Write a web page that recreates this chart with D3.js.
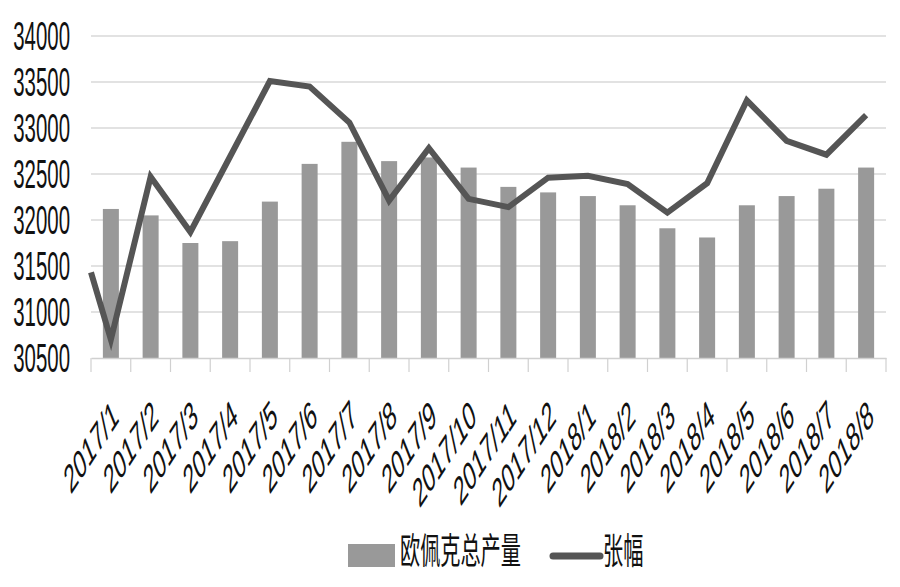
<!DOCTYPE html>
<html><head><meta charset="utf-8">
<script src="https://cdn.jsdelivr.net/npm/d3@7"></script>
<style>html,body{margin:0;padding:0;background:#fff;}svg{display:block;}</style>
</head><body>
<svg id="chart" width="900" height="587"></svg>
<script>
const categories = ["2017/1","2017/2","2017/3","2017/4","2017/5","2017/6","2017/7","2017/8","2017/9","2017/10","2017/11","2017/12","2018/1","2018/2","2018/3","2018/4","2018/5","2018/6","2018/7","2018/8"];
const barValues = [32120,32050,31750,31770,32200,32610,32850,32640,32680,32570,32360,32300,32260,32160,31910,31810,32160,32260,32340,32570];
const lineValues = [30700,32470,31870,32690,33510,33450,33060,32210,32780,32230,32140,32460,32480,32390,32080,32400,33300,32860,32710,33140];
const lineLeadValue = 31430; // value where the line enters at the left edge
const yTicks = [30500,31000,31500,32000,32500,33000,33500,34000];
const seriesNames = ["欧佩克总产量","张幅"];

(function () {
const svg = d3.select("#chart");
const pL = 91, pR = 886, pT = 36, pB = 358;
const x = d3.scaleBand().domain(categories).range([pL, pR]).paddingInner(0).paddingOuter(0);
const y = d3.scaleLinear().domain([30500, 34000]).range([pB, pT]);
const sx = 0.51;

// gridlines
svg.append("g").selectAll("line").data(yTicks.slice(1)).join("line")
  .attr("x1", pL).attr("x2", pR)
  .attr("y1", d => y(d)).attr("y2", d => y(d))
  .attr("stroke", "#d9d9d9").attr("stroke-width", 1.6);

// y labels
svg.append("g").selectAll("text").data(yTicks).join("text")
  .attr("transform", d => `translate(70,${y(d) + 14}) scale(${sx},1)`)
  .attr("text-anchor", "end")
  .attr("font-family", "Liberation Sans, Arial, sans-serif")
  .attr("font-size", 40)
  .attr("fill", "#111")
  .text(d => d);

// bars
const bw = 16;
svg.append("g").selectAll("rect").data(categories).join("rect")
  .attr("x", d => x(d) + x.bandwidth() / 2 - bw / 2)
  .attr("width", bw)
  .attr("y", (d, i) => y(barValues[i]))
  .attr("height", (d, i) => y(30500) - y(barValues[i]))
  .attr("fill", "#999999");

// x axis
const xAxis = d3.axisBottom(x).tickSize(0).tickFormat("");
const ax = svg.append("g").attr("transform", `translate(0,${pB})`).call(xAxis);
ax.select(".domain").attr("stroke", "#d0d0d0").attr("stroke-width", 1.6);
const bounds = categories.map(c => x(c)).concat([pR]);
svg.append("g").selectAll("line").data(bounds).join("line")
  .attr("x1", d => d).attr("x2", d => d)
  .attr("y1", pB).attr("y2", pB + 14)
  .attr("stroke", "#d0d0d0").attr("stroke-width", 1.2);

// x labels
svg.append("g").selectAll("text").data(categories).join("text")
  .attr("transform", d => `translate(${x(d) + x.bandwidth() / 2 + 9},${pB + 62}) scale(${sx},1) rotate(-38)`)
  .attr("text-anchor", "end")
  .attr("font-family", "Liberation Sans, Arial, sans-serif")
  .attr("font-size", 40)
  .attr("fill", "#111")
  .text(d => d);

// line
const pts = [[pL, lineLeadValue]].concat(categories.map((c, i) => [x(c) + x.bandwidth() / 2, lineValues[i]]));
svg.append("path").datum(pts)
  .attr("d", d3.line().x(d => d[0]).y(d => y(d[1])))
  .attr("fill", "none").attr("stroke", "#555555").attr("stroke-width", 6)
  .attr("stroke-linejoin", "miter");

// legend
const lg = svg.append("g");
lg.append("rect").attr("x", 348).attr("y", 544).attr("width", 47).attr("height", 23).attr("fill", "#999999");
lg.append("text").attr("transform", `translate(400,564) scale(0.56,1)`)
  .attr("font-family", "Noto Sans CJK SC, sans-serif").attr("font-size", 36).attr("fill", "#111")
  .text(seriesNames[0]);
lg.append("line").attr("x1", 553).attr("x2", 600).attr("y1", 556).attr("y2", 556)
  .attr("stroke", "#555555").attr("stroke-width", 7).attr("stroke-linecap", "round");
lg.append("text").attr("transform", `translate(603,564) scale(0.56,1)`)
  .attr("font-family", "Noto Sans CJK SC, sans-serif").attr("font-size", 36).attr("fill", "#111")
  .text(seriesNames[1]);
})();
</script>
</body></html>
